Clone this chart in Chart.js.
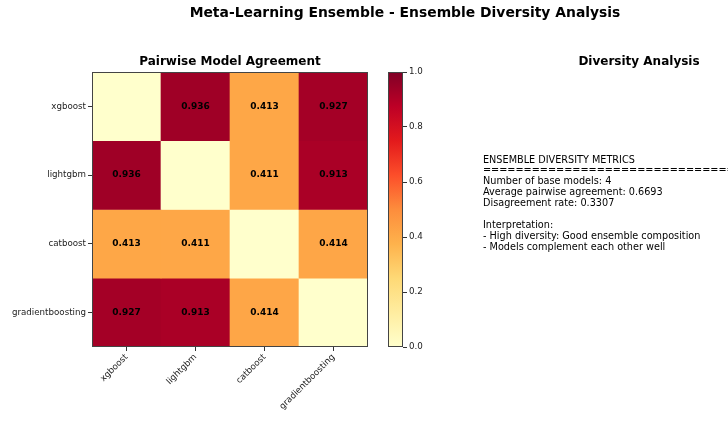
<!DOCTYPE html>
<html><head><meta charset="utf-8">
<script src="https://cdn.jsdelivr.net/npm/chart.js@4.4.1/dist/chart.umd.min.js"></script>
<style>
html,body{margin:0;padding:0;background:#fff;overflow:hidden;}
#wrap{position:relative;width:728px;height:422px;overflow:hidden;font-family:"DejaVu Sans",sans-serif;color:#000;}
canvas{position:absolute;left:0;top:0;}
.t{position:absolute;white-space:pre;}
</style></head><body>
<div id="wrap">
<canvas id="hm" width="728" height="422"></canvas>
<canvas id="cb" width="728" height="422"></canvas>
<div class="t" id="sup" style="left:0;width:810px;text-align:center;top:4px;font-weight:bold;font-size:13.9px;">Meta-Learning Ensemble - Ensemble Diversity Analysis</div>
<div class="t" id="sub1" style="left:92px;width:276px;text-align:center;top:54px;font-weight:bold;font-size:12px;">Pairwise Model Agreement</div>
<div class="t" id="sub2" style="left:563px;width:152px;text-align:center;top:54px;font-weight:bold;font-size:12px;">Diversity Analysis</div>
<div class="t" id="info" style="left:483px;top:154.5px;font-size:9.7px;line-height:10.9px;"></div>
</div>
<script>
const models = ['xgboost', 'lightgbm', 'catboost', 'gradientboosting'];
const xgboostRow = [0, 0.936, 0.413, 0.927];
const lightgbmRow = [0.936, 0, 0.411, 0.913];
const catboostRow = [0.413, 0.411, 0, 0.414];
const gradientboostingRow = [0.927, 0.913, 0.414, 0];
const colorbarTicks = [0, 0.2, 0.4, 0.6, 0.8, 1.0];
const infoLines = [
  'ENSEMBLE DIVERSITY METRICS',
  '========================================',
  'Number of base models: 4',
  'Average pairwise agreement: 0.6693',
  'Disagreement rate: 0.3307',
  '',
  'Interpretation:',
  '- High diversity: Good ensemble composition',
  '- Models complement each other well'
];
const matrix = [xgboostRow, lightgbmRow, catboostRow, gradientboostingRow];

document.getElementById('info').textContent = infoLines.join('\n');

const ylorrd = ['#ffffcc','#ffeda0','#fed976','#feb24c','#fd8d3c','#fc4e2a','#e31a1c','#bd0026','#800026'];
function hex(c){return [parseInt(c.slice(1,3),16),parseInt(c.slice(3,5),16),parseInt(c.slice(5,7),16)];}
function cmap(v){
  v=Math.max(0,Math.min(1,v));
  const p=v*(ylorrd.length-1); const i=Math.min(Math.floor(p),ylorrd.length-2); const f=p-i;
  const a=hex(ylorrd[i]), b=hex(ylorrd[i+1]);
  return 'rgb('+a.map((x,k)=>Math.round(x+(b[k]-x)*f)).join(',')+')';
}

const FONT = {family:'"DejaVu Sans", sans-serif', size:8.7};

const frame = {
  id:'frame',
  afterDatasetsDraw(chart){
    const a=chart.chartArea, c=chart.ctx;
    c.save(); c.strokeStyle='#444'; c.lineWidth=1;
    c.strokeRect(Math.round(a.left)+0.5, Math.round(a.top)+0.5, Math.round(a.right-a.left)-1, Math.round(a.bottom-a.top)-1);
    c.restore();
  }
};

const annot = {
  id:'annot',
  afterDatasetsDraw(chart){
    const c=chart.ctx;
    c.save(); c.font='bold 9px "DejaVu Sans", sans-serif'; c.fillStyle='#000'; c.textAlign='center'; c.textBaseline='middle';
    chart.data.datasets.forEach((ds,i)=>{
      const meta=chart.getDatasetMeta(i);
      meta.data.forEach((el,j)=>{
        if(i===j) return;
        const yc=(el.y+el.base)/2;
        c.fillText(matrix[i][j].toFixed(3), el.x, yc);
      });
    });
    c.restore();
  }
};

new Chart(document.getElementById('hm'), {
  type:'bar',
  data:{
    labels:models,
    datasets:matrix.map((row,i)=>({
      label:models[i],
      data:row.map(()=>[i,i+1]),
      backgroundColor:row.map(v=>cmap(v)),
      borderWidth:0,
      barPercentage:1,
      categoryPercentage:1
    }))
  },
  options:{
    responsive:false, animation:false,
    layout:{padding:{left:0,top:72,right:360,bottom:0}},
    plugins:{legend:{display:false},tooltip:{enabled:false}},
    scales:{
      x:{
        stacked:true,
        grid:{display:true,offset:false,drawOnChartArea:false,tickLength:4,color:'#333',tickColor:'#333'},
        border:{display:false},
        ticks:{autoSkip:false,maxRotation:45,minRotation:45,font:FONT,color:'#222',padding:1},
        afterFit(s){s.height=75;}
      },
      y:{
        type:'linear', stacked:false, min:0, max:4, reverse:true,
        grid:{display:true,drawOnChartArea:false,tickLength:4,color:'#333',tickColor:'#333'},
        border:{display:false},
        afterBuildTicks(s){s.ticks=models.map((_,i)=>({value:i+0.5}));},
        ticks:{font:FONT,color:'#222',padding:2,callback:(v,idx)=>models[idx]},
        afterFit(s){s.width=92;}
      }
    }
  },
  plugins:[frame, annot]
});

new Chart(document.getElementById('cb'), {
  type:'bar',
  data:{
    labels:['cb'],
    datasets:[{
      data:[[0,1]],
      borderWidth:0, barPercentage:1, categoryPercentage:1,
      backgroundColor(ctx){
        const ch=ctx.chart; const ys=ch.scales.y;
        if(!ys || !ch.chartArea) return ylorrd[0];
        const g=ch.ctx.createLinearGradient(0, ys.getPixelForValue(0), 0, ys.getPixelForValue(1));
        ylorrd.forEach((c,k)=>g.addColorStop(k/(ylorrd.length-1), c));
        return g;
      }
    }]
  },
  options:{
    responsive:false, animation:false,
    layout:{padding:{left:388,top:72,right:295,bottom:0}},
    plugins:{legend:{display:false},tooltip:{enabled:false}},
    scales:{
      x:{display:false, afterFit(s){s.height=75;}},
      y:{
        position:'right', min:0, max:1,
        grid:{display:true,drawOnChartArea:false,tickLength:4,color:'#333',tickColor:'#333'},
        border:{display:false},
        afterBuildTicks(s){s.ticks=colorbarTicks.map(v=>({value:v}));},
        ticks:{font:FONT,color:'#222',padding:2,callback:v=>Number(v).toFixed(1)},
        afterFit(s){s.width=30;}
      }
    }
  },
  plugins:[frame]
});
</script>
</body></html>
